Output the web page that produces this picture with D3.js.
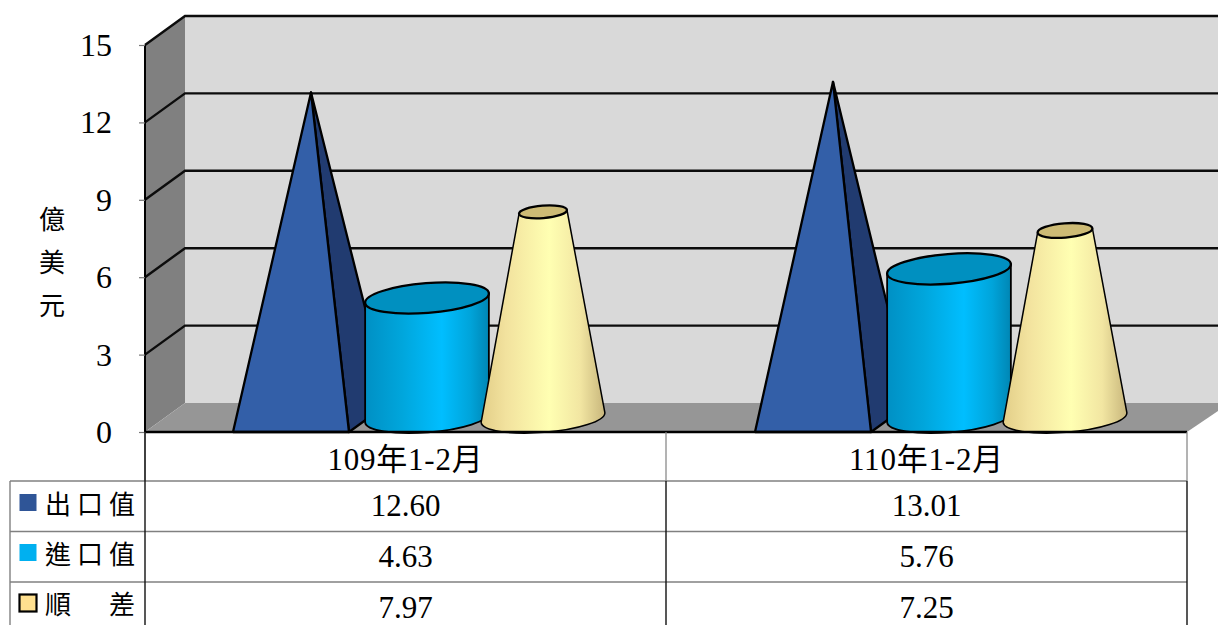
<!DOCTYPE html>
<html>
<head>
<meta charset="utf-8">
<style>
  html, body { margin: 0; padding: 0; background: #fff; overflow: hidden; }
  svg { display: block; }
  text { font-family: "Liberation Serif", "Noto Sans CJK TC", serif; fill: #000; }
  .cjk { font-family: "Noto Sans CJK TC", sans-serif; font-weight: 400; }
</style>
</head>
<body>
<svg width="1218" height="625"></svg>
<script src="https://cdn.jsdelivr.net/npm/d3@7"></script>
<script>
const categories = ["109年1-2月", "110年1-2月"];
const seriesNames = ["出口值", "進口值", "順　差"];
const exportValues = [12.6, 13.01];
const importValues = [4.63, 5.76];
const surplusValues = [7.97, 7.25];
const tableText = [
  ["12.60", "13.01"],
  ["4.63", "5.76"],
  ["7.97", "7.25"]
];
const yTicks = [0, 3, 6, 9, 12, 15];
const yTitle = ["億", "美", "元"];

const svg = d3.select("svg");
const leftX = 145, rightX = 1187, bottomY = 432, topY = 45;
const depthX = 40, depthY = 29;
const tilt = -4.5;

const x = d3.scaleBand().domain(categories).range([leftX, rightX]);
// marks sit a touch to the right of the table columns in the original
const xMarks = d3.scaleBand().domain(categories).range([leftX + 1, rightX + 3]);
const y = d3.scaleLinear().domain([0, 15]).range([bottomY, topY]);
// 150% gap between the groups, as the office chart does it
const inner = d3.scaleBand().domain(seriesNames).range([0, xMarks.bandwidth() * 2 / 3]);
const groupStart = (c) => xMarks(c) + xMarks.bandwidth() / 6;
const maxValue = d3.max([...exportValues, ...importValues, ...surplusValues]);

const defs = svg.append("defs");
const grad = (id, stops) => {
  const g = defs.append("linearGradient").attr("id", id);
  stops.forEach(([o, c]) => g.append("stop").attr("offset", o).attr("stop-color", c));
};
grad("cyl", [[0, "#0090C4"], [0.3, "#00A6DC"], [0.62, "#00BEFF"], [0.85, "#00A4DA"], [1, "#0086B4"]]);
grad("cone", [[0, "#E2CE88"], [0.2, "#F2E29E"], [0.55, "#FFFFB2"], [0.8, "#F2E6A2"], [1, "#C8B67C"]]);

// walls and floor
const walls = svg.append("g");
walls.append("path").attr("fill", "#D9D9D9")
  .attr("d", `M${leftX + depthX},${y(15) - depthY}H1218V${bottomY - depthY}H${leftX + depthX}Z`);
walls.append("path").attr("fill", "#808080")
  .attr("d", `M${leftX},${y(15)}L${leftX + depthX},${y(15) - depthY}V${bottomY - depthY}L${leftX},${bottomY}Z`);
walls.append("path").attr("fill", "#969696")
  .attr("d", `M${leftX},${bottomY}L${leftX + depthX},${bottomY - depthY}H1230L${rightX},${bottomY}Z`);

// grid lines
svg.append("g").selectAll("path").data(yTicks.filter((d) => d > 0)).join("path")
  .attr("fill", "none").attr("stroke", "#0c0c0c").attr("stroke-width", 2.4)
  .attr("d", (d) => `M${leftX},${y(d)}L${leftX + depthX},${y(d) - depthY}H1218`);

// axis
const axis = svg.append("g").attr("transform", `translate(${leftX},0)`)
  .call(d3.axisLeft(y).tickValues(yTicks).tickSize(6).tickPadding(27));
axis.select(".domain").attr("stroke", "#000").attr("stroke-width", 2).attr("d", `M0,${topY}V${bottomY}`);
axis.selectAll(".tick line").attr("stroke", "#777").attr("stroke-width", 1.2);
axis.selectAll(".tick text")
  .style("font-family", '"Liberation Serif", serif').style("font-size", "32px").attr("dy", "0.33em");

// marks
const centre = (c, s) => groupStart(c) + inner(s) + inner.bandwidth() / 2 + depthX / 2;
const baseY = bottomY - depthY / 2;
const lineStyle = (sel, w = 2.3) => sel.attr("stroke", "#000").attr("stroke-width", w).attr("stroke-linejoin", "round");

const ellipseEnds = (cx, cy, rx) => {
  const a = (tilt * Math.PI) / 180;
  return {
    lx: cx - rx * Math.cos(a), ly: cy - rx * Math.sin(a),
    rx: cx + rx * Math.cos(a), ry: cy + rx * Math.sin(a)
  };
};

const marks = svg.append("g");

// pyramid
categories.forEach((c, i) => {
  const cx = centre(c, seriesNames[0]);
  const w = inner.bandwidth();
  const apex = [cx, y(exportValues[i]) - depthY / 2];
  const frontL = [cx - w / 2 - depthX / 2, bottomY];
  const frontR = [cx + w / 2 - depthX / 2, bottomY];
  const backR = [cx + w / 2 + depthX / 2, bottomY - depthY];
  marks.append("path").attr("fill", "#213B70").call(lineStyle)
    .attr("d", d3.line()([frontR, backR, apex]) + "Z");
  marks.append("path").attr("fill", "#335FA8").call(lineStyle)
    .attr("d", d3.line()([frontL, frontR, apex]) + "Z");
});

// cylinder
categories.forEach((c, i) => {
  const cx = centre(c, seriesNames[1]);
  const rx = inner.bandwidth() * 0.535, ry = rx * 0.24;
  const cy = y(importValues[i]) - depthY / 2;
  const t = ellipseEnds(cx, cy, rx), b = ellipseEnds(cx, baseY, rx);
  marks.append("path").attr("fill", "url(#cyl)").call(lineStyle, 1.8)
    .attr("d", `M${t.lx},${t.ly}L${b.lx},${b.ly}A${rx},${ry} ${tilt} 0 0 ${b.rx},${b.ry}L${t.rx},${t.ry}Z`);
  marks.append("ellipse").attr("fill", "#0090C0").call(lineStyle)
    .attr("rx", rx).attr("ry", ry)
    .attr("transform", `translate(${cx},${cy}) rotate(${tilt})`);
});

// cone, narrows towards the largest value of the chart
categories.forEach((c, i) => {
  const cx = centre(c, seriesNames[2]);
  const R = inner.bandwidth() * 0.535;
  const r = R * (1 - surplusValues[i] / maxValue);
  const cy = y(surplusValues[i]) - depthY / 2;
  const t = ellipseEnds(cx, cy, r), b = ellipseEnds(cx, baseY, R);
  marks.append("path").attr("fill", "url(#cone)").call(lineStyle, 1.5)
    .attr("d", `M${t.lx},${t.ly}L${b.lx},${b.ly}A${R},${R * 0.24} ${tilt} 0 0 ${b.rx},${b.ry}L${t.rx},${t.ry}Z`);
  marks.append("ellipse").attr("fill", "#CDBB75").call(lineStyle)
    .attr("rx", r).attr("ry", r * 0.26)
    .attr("transform", `translate(${cx},${cy}) rotate(${tilt})`);
});

// front edge of the floor
svg.append("line").attr("x1", leftX).attr("x2", rightX).attr("y1", bottomY).attr("y2", bottomY)
  .attr("stroke", "#000").attr("stroke-width", 2.6);

// y title
svg.append("g").selectAll("text").data(yTitle).join("text")
  .attr("class", "cjk").attr("text-anchor", "middle").attr("font-size", 26)
  .attr("x", 52).attr("y", (d, i) => 220 + i * 43).attr("dy", "0.36em")
  .text((d) => d);

// data table
const rows = [481, 531.5, 582];
const legendMid = [502.5, 552.5, 603];
const labelMid = [504.5, 555, 605];
const valueMid = [505, 556, 607];
const legendFill = ["#2F5597", "#00B0F0", "#FFE08F"];
const table = svg.append("g");
rows.forEach((ry) => {
  table.append("line").attr("x1", 10).attr("x2", rightX).attr("y1", ry).attr("y2", ry)
    .attr("stroke", "#808080").attr("stroke-width", 1.6);
});
[leftX, x(categories[1]), rightX].forEach((vx) => {
  table.append("line").attr("x1", vx).attr("x2", vx).attr("y1", bottomY).attr("y2", rows[0])
    .attr("stroke", "#808080").attr("stroke-width", 1.2);
  table.append("line").attr("x1", vx).attr("x2", vx).attr("y1", rows[0]).attr("y2", 625)
    .attr("stroke", "#111").attr("stroke-width", 1.4);
});
table.append("line").attr("x1", leftX).attr("x2", leftX).attr("y1", bottomY).attr("y2", rows[0])
  .attr("stroke", "#111").attr("stroke-width", 1.4);
table.append("line").attr("x1", 10).attr("x2", 10).attr("y1", rows[0]).attr("y2", 625)
  .attr("stroke", "#808080").attr("stroke-width", 1.4);

categories.forEach((c) => {
  table.append("text").attr("x", x(c) + x.bandwidth() / 2).attr("y", 459.5).attr("dy", "0.35em")
    .attr("text-anchor", "middle").attr("font-size", 31).attr("letter-spacing", "0.8px").text(c);
});
seriesNames.forEach((s, i) => {
  table.append("rect").attr("x", 19.5).attr("y", legendMid[i] - 8.5).attr("width", 17).attr("height", 17)
    .attr("fill", legendFill[i])
    .attr("stroke", i === 2 ? "#000" : "none").attr("stroke-width", 2.2);
  table.append("text").attr("class", "cjk").attr("x", 45).attr("y", labelMid[i]).attr("dy", "0.36em")
    .attr("font-size", 26).attr("letter-spacing", "6px").text(s);
  categories.forEach((c, j) => {
    table.append("text").attr("x", x(c) + x.bandwidth() / 2).attr("y", valueMid[i]).attr("dy", "0.35em")
      .attr("text-anchor", "middle").attr("font-size", 31).text(tableText[i][j]);
  });
});
</script>
</body>
</html>
